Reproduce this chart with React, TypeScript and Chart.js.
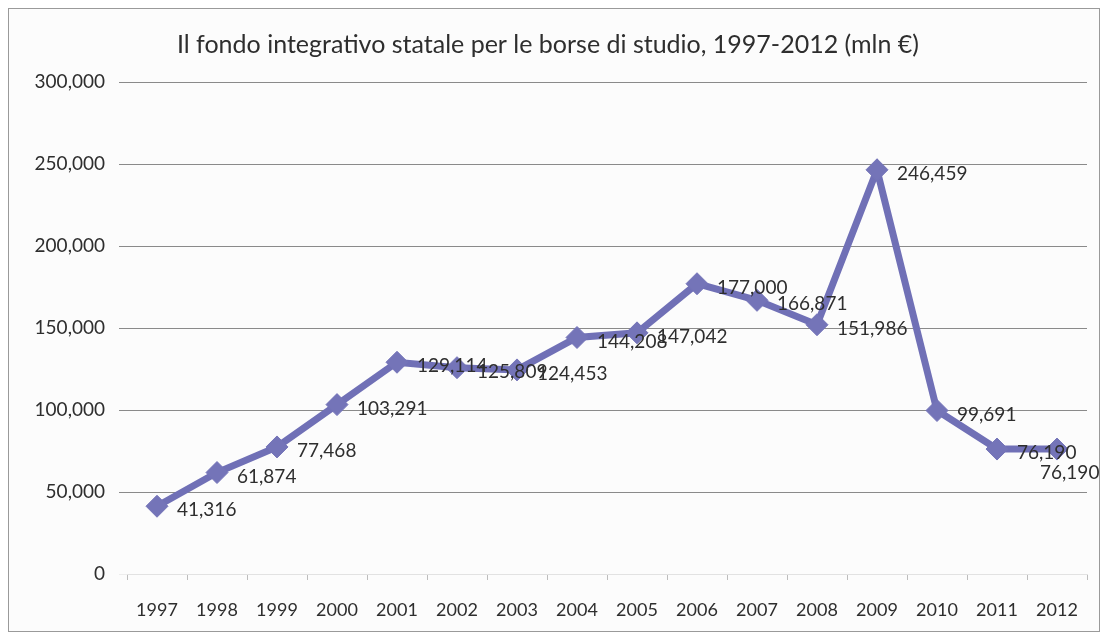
import React, { useEffect, useRef } from "react";
import { Chart, registerables } from "chart.js";

Chart.register(...registerables);

const TITLE = "Il fondo integrativo statale per le borse di studio, 1997-2012 (mln €)";
const YEARS = ["1997","1998","1999","2000","2001","2002","2003","2004","2005","2006","2007","2008","2009","2010","2011","2012"];
const VALUES = [41316, 61874, 77468, 103291, 129114, 125809, 124453, 144208, 147042, 177000, 166871, 151986, 246459, 99691, 76190, 76190];
const Y_MIN = 0;
const Y_MAX = 300000;
const Y_STEP = 50000;

const FONT = "Lato, 'Open Sans', sans-serif";
const LINE_COLOR = "#7070b6";
const TEXT_COLOR = "#2e2e2e";

const fmt = (v: number) => v.toLocaleString("en-US");

const labelPlugin = {
  id: "pointLabels",
  afterDatasetsDraw(chart: any) {
    const ctx = chart.ctx;
    const meta = chart.getDatasetMeta(0);
    ctx.save();
    ctx.font = `19px ${FONT}`;
    ctx.fillStyle = TEXT_COLOR;
    ctx.textBaseline = "middle";
    ctx.textAlign = "left";
    const n = meta.data.length;
    meta.data.forEach((pt: any, i: number) => {
      const txt = fmt(VALUES[i]);
      if (i === n - 1) {
        ctx.fillText(txt, pt.x - 17, pt.y + 24);
      } else {
        ctx.fillText(txt, pt.x + 20, pt.y + 4);
      }
    });
    ctx.restore();
  },
};

export default function App() {
  const ref = useRef<HTMLCanvasElement | null>(null);
  useEffect(() => {
    if (!ref.current) return;
    const chart = new Chart(ref.current, {
      type: "line",
      data: {
        labels: YEARS,
        datasets: [
          {
            data: VALUES,
            borderColor: LINE_COLOR,
            backgroundColor: LINE_COLOR,
            borderWidth: 7,
            pointStyle: "rectRot",
            pointRadius: 11,
            pointBackgroundColor: "#7474b8",
            pointBorderColor: "#7474b8",
            pointBorderWidth: 1,
            tension: 0,
          },
        ],
      },
      options: {
        animation: false,
        responsive: false,
        layout: { padding: { left: 0, right: 12, top: 0, bottom: 0 } },
        plugins: {
          legend: { display: false },
          tooltip: { enabled: false },
          title: {
            display: true,
            text: TITLE,
            color: TEXT_COLOR,
            font: { family: FONT, size: 25, weight: "normal" },
            padding: { top: 21, bottom: 22 },
          },
        },
        scales: {
          x: {
            offset: true,
            grid: {
              offset: true,
              drawOnChartArea: false,
              tickLength: 6,
              color: "#bdbdbd",
            },
            border: { display: true, color: "#e2e2e2" },
            ticks: {
              color: TEXT_COLOR,
              font: { family: FONT, size: 18 },
              padding: 19,
              maxRotation: 0,
              autoSkip: false,
            },
            afterFit: (s: any) => {
              s.height = 57;
            },
          },
          y: {
            min: Y_MIN,
            max: Y_MAX,
            grid: {
              color: (c: any) => (c.tick && c.tick.value === 0 ? "rgba(0,0,0,0.06)" : "#8a8a8a"),
              tickLength: 8,
              lineWidth: 1,
            },
            border: { display: false },
            ticks: {
              stepSize: Y_STEP,
              color: TEXT_COLOR,
              font: { family: FONT, size: 19 },
              padding: 14,
              callback: (v: any) => fmt(Number(v)),
            },
            afterFit: (s: any) => {
              s.width = 118;
            },
          },
        },
      },
      plugins: [labelPlugin],
    });
    return () => chart.destroy();
  }, []);

  return (
    <div
      style={{
        width: 1092,
        height: 624,
        border: "1px solid #9a9a9a",
        boxSizing: "border-box",
        background: "#fcfcfc",
      }}
    >
      <canvas ref={ref} width={1090} height={622} style={{ display: "block" }} />
    </div>
  );
}
